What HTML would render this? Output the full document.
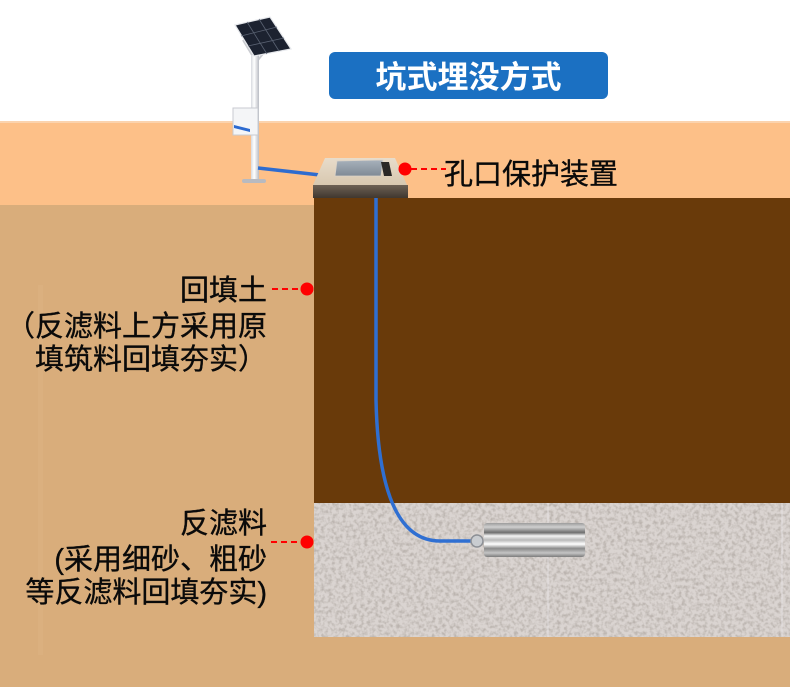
<!DOCTYPE html>
<html><head><meta charset="utf-8">
<style>
html,body{margin:0;padding:0;}
body{width:790px;height:687px;position:relative;overflow:hidden;background:#fff;}
.abs{position:absolute;}
.t{position:absolute;font-family:"Liberation Sans","Noto Sans CJK SC",sans-serif;font-size:29px;line-height:29px;white-space:nowrap;color:#0a0a0a;-webkit-text-stroke:0.35px #0a0a0a;}
</style></head>
<body>
<svg class="abs" style="left:0;top:0" width="790" height="687" viewBox="0 0 790 687" xmlns="http://www.w3.org/2000/svg">
<defs>
<filter id="grav" x="0" y="0" width="100%" height="100%">
<feTurbulence type="fractalNoise" baseFrequency="0.28" numOctaves="2" seed="3" result="n"/>
<feColorMatrix type="matrix" in="n" values="0 0 0 0 0.50  0 0 0 0 0.46  0 0 0 0 0.43  0 0 0 -2.6 1.55" result="d"/>
<feComposite in="d" in2="SourceGraphic" operator="in"/>
</filter>
<linearGradient id="pole" x1="0" x2="1" y1="0" y2="0">
<stop offset="0" stop-color="#d8dae0"/><stop offset="0.4" stop-color="#ffffff"/><stop offset="1" stop-color="#b9bcc4"/>
</linearGradient>
<linearGradient id="cyl" x1="0" x2="0" y1="0" y2="1">
<stop offset="0" stop-color="#9c9c9c"/>
<stop offset="0.12" stop-color="#cfcfcf"/>
<stop offset="0.28" stop-color="#6e6e6e"/>
<stop offset="0.38" stop-color="#f4f4f4"/>
<stop offset="0.5" stop-color="#b8b8b8"/>
<stop offset="0.62" stop-color="#ffffff"/>
<stop offset="0.75" stop-color="#8a8a8a"/>
<stop offset="0.88" stop-color="#c4c4c4"/>
<stop offset="1" stop-color="#7c7c7c"/>
</linearGradient>
<linearGradient id="top" x1="0" x2="0" y1="0" y2="1">
<stop offset="0" stop-color="#e8dccb"/><stop offset="1" stop-color="#d8c8b0"/>
</linearGradient>
<linearGradient id="front" x1="0" x2="0" y1="0" y2="1">
<stop offset="0" stop-color="#6d6154"/><stop offset="1" stop-color="#40372f"/>
</linearGradient>
<linearGradient id="plate" x1="0" x2="0" y1="0" y2="1">
<stop offset="0" stop-color="#a7b1bb"/><stop offset="1" stop-color="#7f8a95"/>
</linearGradient>
</defs>

<!-- ground layers -->
<rect x="0" y="122" width="790" height="84" fill="#fdc088"/>
<rect x="0" y="121" width="790" height="2" fill="#fbd3ae"/>
<rect x="0" y="205" width="790" height="482" fill="#d9ad7b"/>
<rect x="38" y="285" width="5" height="370" fill="#ddb384" opacity="0.5"/>
<rect x="314" y="198" width="476" height="305" fill="#693a0a"/>
<rect x="314" y="503" width="476" height="134" fill="#dad4d1"/>
<rect x="314" y="503" width="476" height="134" fill="#dad4d1" filter="url(#grav)"/>
<rect x="547" y="503" width="2" height="134" fill="#ece8ea" opacity="0.35"/>
<rect x="781" y="503" width="2" height="134" fill="#ece8ea" opacity="0.35"/>

<!-- pole & solar -->
<line x1="243" y1="40" x2="255" y2="60" stroke="#c9cbd0" stroke-width="2"/>
<line x1="270" y1="45" x2="258" y2="60" stroke="#c9cbd0" stroke-width="2"/>
<rect x="251" y="55" width="8" height="127" fill="url(#pole)"/>
<polygon points="235,25 270,17 291,49 254,56" fill="#1c2230" stroke="#e6e8ec" stroke-width="1.2"/>
<line x1="247" y1="22" x2="267" y2="54" stroke="#5a6272" stroke-width="0.8"/>
<line x1="259" y1="19" x2="279" y2="51" stroke="#5a6272" stroke-width="0.8"/>
<line x1="241" y1="36" x2="277" y2="27" stroke="#5a6272" stroke-width="0.8"/>
<line x1="248" y1="46" x2="284" y2="38" stroke="#5a6272" stroke-width="0.8"/>
<rect x="233" y="108" width="25" height="27" fill="#f4f5f7" stroke="#c8cad0" stroke-width="1"/>
<polygon points="234,125 250,129 250,132 234,128" fill="#2c6ad0"/>
<rect x="242" y="179" width="24" height="4" rx="2" fill="#b8bac0"/>
<!-- cables -->
<line x1="258" y1="168" x2="320" y2="175" stroke="#2e6ccf" stroke-width="3.5"/>
<path d="M376 198 L376 400 Q379 541 440 541 L472 541" fill="none" stroke="#2f6fd2" stroke-width="3.5"/>

<!-- protection box -->
<polygon points="325,158 395,158 407,185 313,185" fill="url(#top)"/>
<polygon points="337,161 383,160 381,176 335,176" fill="url(#plate)" stroke="#d9d2c8" stroke-width="0.8"/>
<polygon points="381,162 389,162 392,176 384,176" fill="#2a2826"/>
<rect x="313" y="185" width="95" height="13" fill="url(#front)"/>

<!-- sensor -->
<circle cx="477" cy="541" r="6" fill="#c9ccd0" stroke="#8d9096" stroke-width="1.5"/>
<rect x="484" y="523" width="101" height="34" rx="3" fill="url(#cyl)"/>

<!-- callouts -->
<g stroke="#ff0000" stroke-width="2" stroke-dasharray="6 4">
<line x1="411" y1="169" x2="446" y2="169"/>
<line x1="272" y1="289" x2="301" y2="289"/>
<line x1="271" y1="542" x2="301" y2="542"/>
</g>
<g fill="#ff0000">
<circle cx="405" cy="169" r="6.5"/>
<circle cx="307" cy="289" r="6.5"/>
<circle cx="307" cy="542" r="6.5"/>
</g>

<!-- title box -->
<rect x="329" y="52" width="279" height="47" rx="6" fill="#1b70c2"/>
</svg>

<div class="t" style="left:329px;width:279px;top:62px;text-align:center;color:#fff;-webkit-text-stroke:0;font-weight:bold;font-size:31px;line-height:31px;">坑式埋没方式</div>

<div class="t" style="left:444px;top:161px;">孔口保护装置</div>

<div class="t" style="right:523px;top:277px;">回填土</div>
<div class="t" style="right:523px;top:313px;">（反滤料上方采用原</div>
<div class="t" style="left:35px;top:346px;">填筑料回填夯实）</div>

<div class="t" style="right:523px;top:510px;">反滤料</div>
<div class="t" style="right:523px;top:546px;">(采用细砂、粗砂</div>
<div class="t" style="right:523px;top:579px;">等反滤料回填夯实)</div>
</body></html>
